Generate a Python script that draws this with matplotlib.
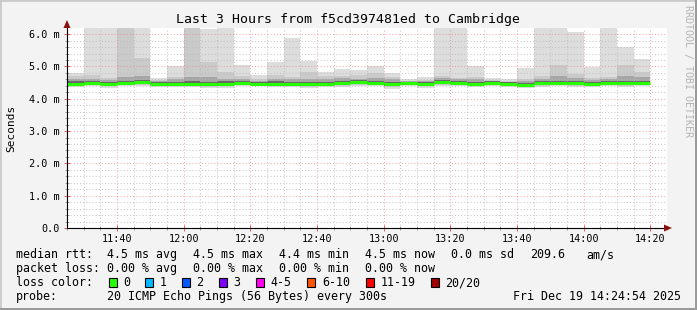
import matplotlib
matplotlib.use("Agg")
import matplotlib.pyplot as plt
from matplotlib.patches import Rectangle, Polygon
from matplotlib.ticker import FixedLocator, MultipleLocator

W, H = 697, 310
MONO = "DejaVu Sans Mono"

title = "Last 3 Hours from f5cd397481ed to Cambridge"
y_label = "Seconds"
watermark = "RRDTOOL / TOBI OETIKER"

# time axis (minutes since midnight)
view_start = "11:25"
view_end = "14:25"
step_minutes = 5
bar_start = ["11:25", "11:30", "11:35", "11:40", "11:45", "11:50", "11:55",
             "12:00", "12:05", "12:10", "12:15", "12:20", "12:25", "12:30",
             "12:35", "12:40", "12:45", "12:50", "12:55", "13:00", "13:05",
             "13:10", "13:15", "13:20", "13:25", "13:30", "13:35", "13:40",
             "13:45", "13:50", "13:55", "14:00", "14:05", "14:10", "14:15"]
x_tick_labels = ["11:40", "12:00", "12:20", "12:40", "13:00", "13:20",
                 "13:40", "14:00", "14:20"]
y_ticks = [0, 1, 2, 3, 4, 5, 6]
y_tick_labels = ["0.0", "1.0 m", "2.0 m", "3.0 m", "4.0 m", "5.0 m", "6.0 m"]

# smoke (sorted ping levels, ms) per 5-minute bar
median_rtt = [4.45, 4.48, 4.45, 4.48, 4.51, 4.47, 4.47, 4.47, 4.45, 4.47, 4.50, 4.47,
              4.47, 4.47, 4.45, 4.46, 4.49, 4.52, 4.48, 4.46, 4.48, 4.45, 4.52, 4.50,
              4.46, 4.49, 4.46, 4.42, 4.48, 4.48, 4.48, 4.46, 4.50, 4.48, 4.48]
smoke_max = [4.80, 6.60, 6.60, 6.80, 6.40, 4.63, 5.01, 6.90, 6.16, 6.50, 5.06, 4.75,
             5.14, 5.87, 5.17, 4.82, 4.92, 4.89, 5.01, 4.80, 4.60, 4.68, 6.60, 6.60,
             5.01, 4.63, 4.60, 4.96, 6.60, 6.70, 6.07, 4.99, 6.60, 5.60, 5.23]
smoke_p19 = [4.70, 4.73, 4.65, 6.40, 5.25, 4.58, 4.68, 6.50, 5.14, 4.84, 4.70, 4.62,
             4.72, 4.66, 4.83, 4.70, 4.70, 4.72, 4.80, 4.68, 4.55, 4.58, 4.70, 4.65,
             4.68, 4.58, 4.55, 4.60, 4.70, 5.06, 4.78, 4.64, 4.67, 5.06, 4.84]
smoke_p17 = [4.62, 4.62, 4.58, 4.68, 4.70, 4.55, 4.62, 4.66, 4.66, 4.62, 4.62, 4.56,
             4.62, 4.60, 4.62, 4.60, 4.63, 4.62, 4.64, 4.60, 4.54, 4.55, 4.64, 4.60,
             4.60, 4.56, 4.53, 4.55, 4.62, 4.70, 4.65, 4.58, 4.62, 4.70, 4.68]
smoke_p14 = [4.55, 4.54, 4.52, 4.56, 4.57, 4.52, 4.53, 4.55, 4.53, 4.54, 4.56, 4.53,
             4.54, 4.53, 4.52, 4.52, 4.56, 4.57, 4.55, 4.52, 4.53, 4.51, 4.58, 4.56,
             4.53, 4.54, 4.52, 4.49, 4.55, 4.56, 4.56, 4.53, 4.56, 4.56, 4.56]
smoke_p8 = [4.42, 4.45, 4.42, 4.45, 4.47, 4.44, 4.44, 4.44, 4.40, 4.44, 4.46, 4.44,
            4.44, 4.43, 4.41, 4.43, 4.44, 4.48, 4.45, 4.40, 4.45, 4.42, 4.48, 4.47,
            4.43, 4.46, 4.43, 4.39, 4.45, 4.45, 4.45, 4.43, 4.47, 4.45, 4.45]
smoke_p3 = [4.40, 4.42, 4.38, 4.42, 4.42, 4.41, 4.41, 4.41, 4.36, 4.38, 4.43, 4.42,
            4.41, 4.40, 4.37, 4.40, 4.40, 4.44, 4.42, 4.35, 4.42, 4.38, 4.44, 4.43,
            4.40, 4.43, 4.40, 4.36, 4.41, 4.42, 4.41, 4.40, 4.43, 4.41, 4.42]
smoke_min = [4.37, 4.38, 4.34, 4.38, 4.39, 4.37, 4.36, 4.36, 4.32, 4.33, 4.40, 4.38,
             4.37, 4.36, 4.33, 4.37, 4.36, 4.40, 4.38, 4.30, 4.38, 4.33, 4.40, 4.40,
             4.36, 4.40, 4.37, 4.34, 4.36, 4.38, 4.37, 4.36, 4.40, 4.37, 4.38]

# legend content
rtt_stats = ["median rtt:", "4.5 ms avg", "4.5 ms max", "4.4 ms min", "4.5 ms now",
             "0.0 ms sd", "209.6", "am/s"]
loss_stats = ["packet loss:", "0.00 % avg", "0.00 % max", "0.00 % min", "0.00 % now"]
loss_labels = ["0", "1", "2", "3", "4-5", "6-10", "11-19", "20/20"]
loss_colors = ["#26ff00", "#00b8ff", "#0059ff", "#7e00ff", "#ff00f0", "#ff5500",
               "#ff0000", "#a10000"]
probe_text = "20 ICMP Echo Pings (56 Bytes) every 300s"
timestamp = "Fri Dec 19 14:24:54 2025"


def tmin(s):
    h, m = s.split(":")
    return int(h) * 60 + int(m)


def fx(px):
    return px / W


def fy(py):
    return 1 - py / H


fig = plt.figure(figsize=(W / 100, H / 100), dpi=100, facecolor="#f3f3f3")

# 3D frame
fig.patches.append(Rectangle((0, 0), 1, 1, transform=fig.transFigure, fill=False,
                             edgecolor="#cbcbcb", linewidth=2))
fig.patches.append(Rectangle((fx(0), fy(310)), fx(697), 2 / H, transform=fig.transFigure,
                             facecolor="#9a9a9a", edgecolor="none"))
fig.patches.append(Rectangle((fx(695), fy(310)), 2 / W, 1, transform=fig.transFigure,
                             facecolor="#9a9a9a", edgecolor="none"))

ax = fig.add_axes([fx(67), fy(228), fx(600), 200 / H])
ax.set_facecolor("white")
x0, x1 = tmin(view_start), tmin(view_end)
ax.set_xlim(x0, x1)
ax.set_ylim(0, 6.19)

xs = [tmin(s) for s in bar_start]
bands = [
    (smoke_min, smoke_max, "#dddddd"),
    (smoke_p3, smoke_p19, "#cacaca"),
    (smoke_p8, smoke_p17, "#a6a6a6"),
    (smoke_p8, smoke_p14, "#686868"),
]
for lo, hi, col in bands:
    ax.bar(xs, [h - l for l, h in zip(lo, hi)], bottom=lo, width=step_minutes,
           align="edge", color=col, linewidth=0, zorder=1)

ax.hlines(median_rtt, xs, [x + step_minutes for x in xs], colors=loss_colors[0],
          linewidth=2.2, zorder=4)

# grid
maj_x = [tmin(s) for s in x_tick_labels]
ax.xaxis.set_major_locator(FixedLocator(maj_x))
ax.xaxis.set_minor_locator(MultipleLocator(5))
ax.set_xticklabels(x_tick_labels)
ax.yaxis.set_major_locator(FixedLocator(y_ticks))
ax.yaxis.set_minor_locator(MultipleLocator(0.2))
ax.set_yticklabels(y_tick_labels)
ax.set_axisbelow(False)
ax.grid(which="minor", color="#b8b8b8", linestyle=(0, (1, 2)), linewidth=0.75, alpha=0.75)
ax.grid(which="major", color="#f08080", linestyle=(0, (1, 2)), linewidth=0.75, alpha=0.65)

for s in ["top", "right"]:
    ax.spines[s].set_visible(False)
for s in ["left", "bottom"]:
    ax.spines[s].set_color("black")
    ax.spines[s].set_linewidth(0.8)
    ax.spines[s].set_zorder(5)

ax.tick_params(which="both", direction="inout", labelsize=7.3)
ax.tick_params(which="major", length=4, width=0.7, color="#e06060", pad=2.5)
ax.tick_params(which="minor", length=3, width=0.7, color="#a0a0a0")
ax.tick_params(axis="y", which="major", pad=3.5)
for lab in ax.get_xticklabels() + ax.get_yticklabels():
    lab.set_fontfamily(MONO)

# axis arrows
arrow_col = "#8b1010"
fig.patches.append(Polygon([(fx(664), fy(224.5)), (fx(664), fy(231.5)), (fx(672), fy(228))],
                           closed=True, transform=fig.transFigure, facecolor=arrow_col,
                           edgecolor="none"))
fig.patches.append(Polygon([(fx(63.5), fy(28)), (fx(70.5), fy(28)), (fx(67), fy(20))],
                           closed=True, transform=fig.transFigure, facecolor=arrow_col,
                           edgecolor="none"))

# texts
fig.text(0.5, fy(23), title, ha="center", va="baseline", family=MONO, fontsize=9.5)
fig.text(fx(11), fy(128), y_label, ha="center", va="center", rotation=90,
         family=MONO, fontsize=8)
fig.text(fx(688), fy(5), watermark, ha="center", va="top", rotation=270,
         family=MONO, fontsize=7.2, color="#b4b4b4")

LFS = 8.4
rtt_x = [16, 107, 193, 279, 365, 451, 530, 586]
for x, t in zip(rtt_x, rtt_stats):
    fig.text(fx(x), fy(258), t, ha="left", va="baseline", family=MONO, fontsize=LFS)
for x, t in zip(rtt_x, loss_stats):
    fig.text(fx(x), fy(272), t, ha="left", va="baseline", family=MONO, fontsize=LFS)

fig.text(fx(16), fy(286), "loss color:", ha="left", va="baseline", family=MONO, fontsize=LFS)
box_x = [108.7, 145.3, 182, 219, 256, 307.3, 365.7, 430.7]
for bx, lab, col in zip(box_x, loss_labels, loss_colors):
    fig.patches.append(Rectangle((fx(bx), fy(286.5)), 8 / W, 8.5 / H,
                                 transform=fig.transFigure, facecolor=col,
                                 edgecolor="black", linewidth=0.8))
    fig.text(fx(bx + 14.5), fy(286), lab, ha="left", va="baseline", family=MONO,
             fontsize=LFS)

fig.text(fx(16), fy(300), "probe:", ha="left", va="baseline", family=MONO, fontsize=LFS)
fig.text(fx(107), fy(300), probe_text, ha="left", va="baseline", family=MONO, fontsize=LFS)
fig.text(fx(681), fy(300), timestamp, ha="right", va="baseline", family=MONO, fontsize=LFS)

fig.savefig("out.png", dpi=100, facecolor=fig.get_facecolor())
